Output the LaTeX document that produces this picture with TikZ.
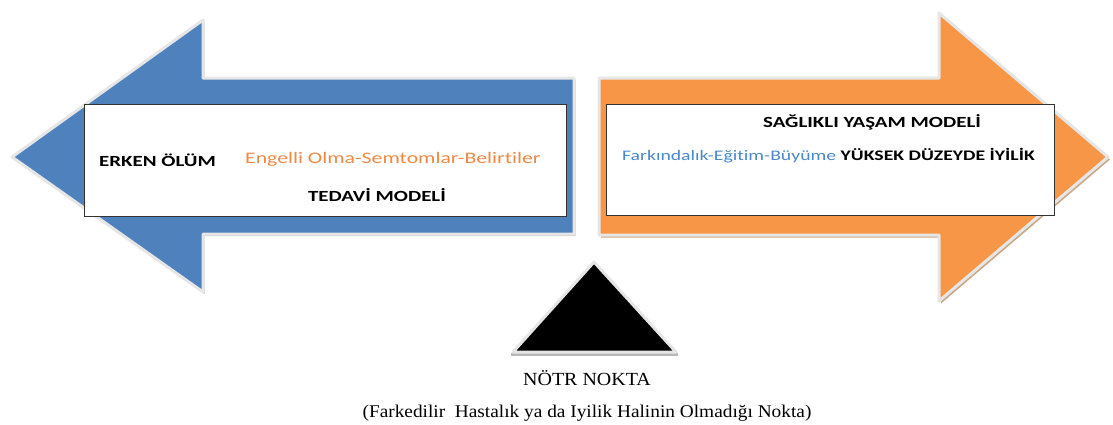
\documentclass[tikz,border=0pt]{standalone}
\usepackage{fontspec}
\setmainfont{Liberation Serif}[FakeStretch=1.08]
\newfontfamily\calibri{Carlito}[FakeStretch=1.35, Ligatures=NoCommon]
\usetikzlibrary{positioning}
\definecolor{armblue}{HTML}{4F81BD}
\definecolor{armorange}{HTML}{F79646}
\definecolor{txtorange}{HTML}{EE8A45}
\definecolor{txtblue}{HTML}{4A88CC}
\definecolor{rim}{HTML}{E6E6E6}
\definecolor{tan}{HTML}{C9A887}

\begin{document}
\begin{tikzpicture}[x=1pt, y=-1pt,
    arm/.style={draw=rim, line width=3pt, line join=round},
    box/.style={draw=black!80, fill=white, line width=0.9pt},
    txt/.style={font=\calibri\bfseries\fontsize{15.5}{18}\selectfont, inner sep=0pt},
    subtxt/.style={font=\calibri\fontsize{16.1}{18}\selectfont, inner sep=0pt},
    serif/.style={font=\fontsize{18.5}{20}\selectfont, inner sep=0pt}]
    \useasboundingbox (0,0) rectangle (1113,424);

    % left arrow
    \fill[gray!45, shift={(1.5,2)}] (12,157) -- (203,20) -- (203,78) -- (574,78) -- (574,234) -- (203,234) -- (203,292) -- cycle;
    \path[arm, fill=armblue] (12,157) -- (203,20) -- (203,78) -- (574,78) -- (574,234) -- (203,234) -- (203,292) -- cycle;
    % right arrow
    \fill[tan, shift={(2,2.5)}] (599,78) -- (939,78) -- (939,13) -- (1108,157) -- (939,301) -- (939,235) -- (599,235) -- cycle;
    \path[arm, fill=armorange] (599,78) -- (939,78) -- (939,13) -- (1108,157) -- (939,301) -- (939,235) -- (599,235) -- cycle;

    \node[box, minimum width=482pt, minimum height=112pt] (tedavibox) at (325,160) {};
    \node[box, minimum width=448pt, minimum height=111pt] (yasambox) at (830,159.5) {};

    \node[txt, anchor=west] (erken) at (99,160) {ERKEN ÖLÜM};
    \node[subtxt, text=txtorange, anchor=west] (engelli) at (245,159) {Engelli Olma-Semtomlar-Belirtiler};
    \node[txt] (tedavi) at (377,195) {TEDAVİ MODELİ};
    \node[txt] (saglikli) at (872,122) {SAĞLIKLI YAŞAM MODELİ};
    \node[txt, font=\calibri\bfseries\fontsize{14.6}{18}\selectfont, anchor=west] (iyilik) at (622,156) {\textcolor{txtblue}{\mdseries Farkındalık-Eğitim-Büyüme} YÜKSEK DÜZEYDE İYİLİK};

    % neutral point
    \fill[gray!55] (511,353) -- (678,353) -- (678,355.5) -- (511,355.5) -- cycle;
    \path[draw=rim, line width=3pt, line join=round, fill=black] (594,262) -- (676,352) -- (513,352) -- cycle;
    \node[serif] (notr) at (587,378) {NÖTR NOKTA};
    \node[serif, font=\fontsize{17.9}{20}\selectfont, below=35pt of notr.center, anchor=center] (aciklama) {(Farkedilir\ \ Hastalık ya da Iyilik Halinin Olmadığı Nokta)};
\end{tikzpicture}
\end{document}
